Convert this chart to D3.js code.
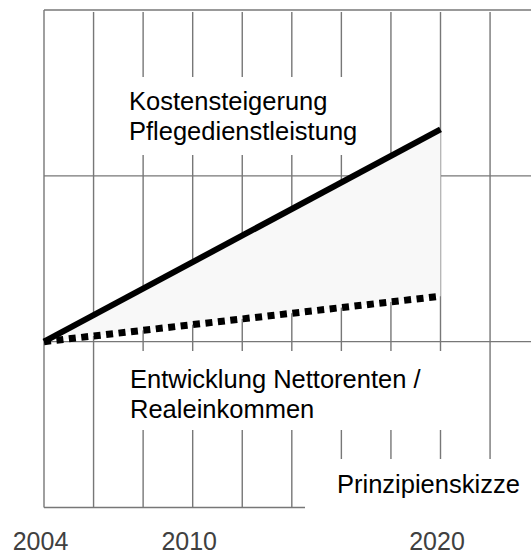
<!DOCTYPE html>
<html>
<head>
<meta charset="utf-8">
<script src="https://cdn.jsdelivr.net/npm/d3@7"></script>
<style>
    html, body { margin: 0; padding: 0; background: #fff; }
    svg { display: block; }
    text { font-family: "Liberation Sans", Arial, sans-serif; font-size: 25.5px; }
</style>
</head>
<body>
<div id="graph-placeholder"></div>
<script>
// data (index, 2004 = 100)
var years = [2004, 2020];
var kosten = [100, 164];          // Kostensteigerung Pflegedienstleistung
var renten = [100, 113.7];        // Entwicklung Nettorenten / Realeinkommen
var gridYears = [2004, 2006, 2008, 2010, 2012, 2014, 2016, 2018, 2020, 2022];
var gridValues = [50, 100, 150, 200];
var tickYears = [2004, 2010, 2020];
var labelKosten = ["Kostensteigerung", "Pflegedienstleistung"];
var labelRenten = ["Entwicklung Nettorenten /", "Realeinkommen"];
var labelNote = "Prinzipienskizze";

var width = 531,
    height = 557,
    gridColor = "#777";

var svg = d3.select("#graph-placeholder")
    .append("svg")
    .attr("width", width)
    .attr("height", height);

var x = d3.scaleLinear()
    .domain([2004, 2020])
    .range([44, 440.5]);

var y = d3.scaleLinear()
    .domain([50, 200])
    .range([507.5, 10]);

// grid
var grid = svg.append("g").attr("class", "grid");

grid.selectAll("line.v")
    .data(gridYears)
    .enter()
    .append("line")
    .attr("class", "v")
    .attr("x1", function (d) { return x(d) })
    .attr("x2", function (d) { return x(d) })
    .attr("y1", function (d, i) { return i === 0 ? y(200) : y(200) + 2 })
    .attr("y2", y(50))
    .attr("stroke", gridColor)
    .attr("stroke-width", 1.4);

grid.selectAll("line.h")
    .data(gridValues)
    .enter()
    .append("line")
    .attr("class", "h")
    .attr("x1", x(2004))
    .attr("x2", width)
    .attr("y1", function (d) { return y(d) })
    .attr("y2", function (d) { return y(d) })
    .attr("stroke", gridColor)
    .attr("stroke-width", 1.4);

// white boxes behind the labels
var boxes = [
    [120, 77, 232, 78],
    [120, 351, 342, 79],
    [305, 459, 226, 60]
];
svg.append("g")
    .selectAll("rect")
    .data(boxes)
    .enter()
    .append("rect")
    .attr("x", function (d) { return d[0] })
    .attr("y", function (d) { return d[1] })
    .attr("width", function (d) { return d[2] })
    .attr("height", function (d) { return d[3] })
    .attr("fill", "#fff");

// gap between the two developments
var pts = years.map(function (d, i) {
    return {year: d, k: kosten[i], r: renten[i]};
});

svg.append("path")
    .datum(pts)
    .attr("fill", "#f8f8f8")
    .attr("d", d3.area()
        .x(function (d) { return x(d.year) })
        .y0(function (d) { return y(d.r) })
        .y1(function (d) { return y(d.k) }));

svg.append("path")
    .datum(pts)
    .attr("fill", "none")
    .attr("stroke", "#000")
    .attr("stroke-width", 7)
    .attr("stroke-dasharray", "7,5.5")
    .attr("d", d3.line()
        .x(function (d) { return x(d.year) })
        .y(function (d) { return y(d.r) }));

svg.append("path")
    .datum(pts)
    .attr("fill", "none")
    .attr("stroke", "#000")
    .attr("stroke-width", 6)
    .attr("d", d3.line()
        .x(function (d) { return x(d.year) })
        .y(function (d) { return y(d.k) }));

// labels
svg.append("text")
    .attr("x", 130)
    .attr("y", 110)
    .selectAll("tspan")
    .data(labelKosten)
    .enter()
    .append("tspan")
    .attr("x", 129)
    .attr("dy", function (d, i) { return i ? 30 : 0 })
    .text(function (d) { return d });

svg.append("text")
    .attr("x", 130)
    .attr("y", 388)
    .selectAll("tspan")
    .data(labelRenten)
    .enter()
    .append("tspan")
    .attr("x", 130)
    .attr("dy", function (d, i) { return i ? 29.5 : 0 })
    .text(function (d) { return d });

svg.append("text")
    .attr("x", 337)
    .attr("y", 493)
    .text(labelNote);

// x axis, only the year labels
var xAxis = svg.append("g")
    .attr("transform", "translate(-4,550)")
    .call(d3.axisBottom(x).tickValues(tickYears).tickFormat(d3.format("d")).tickSize(0).tickPadding(0));

xAxis.select(".domain").remove();
xAxis.selectAll("text")
    .attr("y", 0)
    .attr("dy", 0)
    .attr("fill", "#404040")
    .style("font-family", "\"Liberation Sans\", Arial, sans-serif")
    .style("font-size", "25px");
</script>
</body>
</html>
